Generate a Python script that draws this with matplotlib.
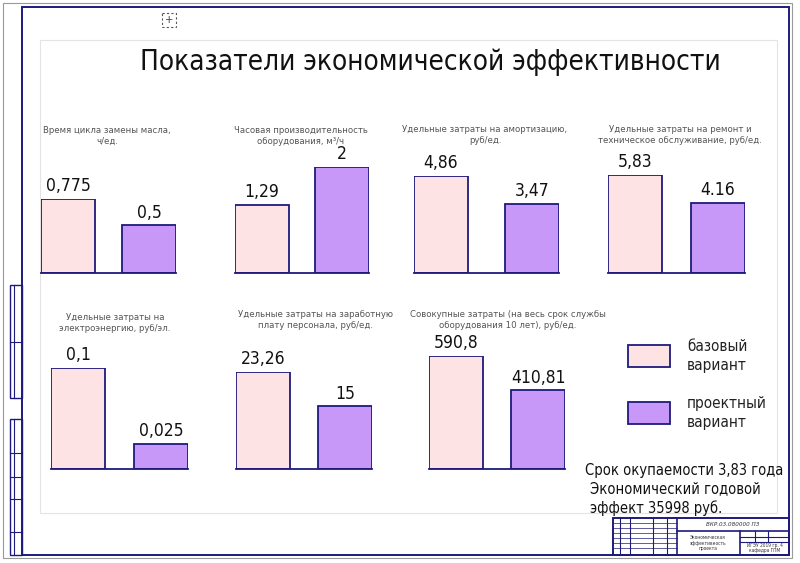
import matplotlib
matplotlib.use('Agg')
import matplotlib.pyplot as plt
from matplotlib.patches import Rectangle

plt.rcParams['font.family'] = ['DejaVu Sans']
plt.rcParams['font.stretch'] = 'condensed'

# data
titles = [
    'Время цикла замены масла,\nч/ед.',
    'Часовая производительность\nоборудования, м³/ч',
    'Удельные затраты на амортизацию,\nруб/ед.',
    'Удельные затраты на ремонт и\nтехническое обслуживание, руб/ед.',
    'Удельные затраты на\nэлектроэнергию, руб/эл.',
    'Удельные затраты на заработную\nплату персонала, руб/ед.',
    'Совокупные затраты (на весь срок службы\nоборудования 10 лет), руб/ед.',
]
base_values = [0.775, 1.29, 4.86, 5.83, 0.1, 23.26, 590.8]
proj_values = [0.5, 2, 3.47, 4.16, 0.025, 15, 410.81]
base_labels = ['0,775', '1,29', '4,86', '5,83', '0,1', '23,26', '590,8']
proj_labels = ['0,5', '2', '3,47', '4.16', '0,025', '15', '410,81']
legend_labels = ['базовый\nвариант', 'проектный\nвариант']

main_title = 'Показатели экономической эффективности'
notes = ['Срок окупаемости 3,83 года', 'Экономический годовой', 'эффект 35998 руб.']

# layout in pixels: left, right, baseline, height of tallest bar, title x, title y
layout = [
    (41, 176, 273, 74, 107, 136),
    (235, 369, 273, 106, 301, 136),
    (414, 559, 273, 97, 485, 135),
    (608, 745, 273, 98, 680, 135),
    (51, 188, 469, 101, 115, 323),
    (236, 372, 469, 97, 316, 320),
    (429, 565, 469, 113, 508, 320),
]

W, H = 800, 563
pink = '#fde3e3'
purple = '#c898f8'
navy = '#1e1a7c'

fig = plt.figure(figsize=(8, 5.63), dpi=100)
fig.patch.set_facecolor('white')

bg = fig.add_axes([0, 0, 1, 1])
bg.set_xlim(0, W)
bg.set_ylim(H, 0)
bg.axis('off')

# sheet frames
bg.add_patch(Rectangle((3, 3), 789, 555, fill=False, ec='#9a9a9a', lw=0.8))
bg.add_patch(Rectangle((22, 7), 767, 548, fill=False, ec=navy, lw=1.4))
bg.add_patch(Rectangle((40, 40), 737, 473, fill=False, ec='#e4e4e4', lw=0.8))

# left side strip
for y0, y1 in [(285, 398), (419, 555)]:
    bg.add_patch(Rectangle((10, y0), 12, y1 - y0, fill=False, ec=navy, lw=1))
    bg.plot([14, 14], [y0, y1], color=navy, lw=0.8)
for y in [342, 453, 477, 499, 532]:
    bg.plot([10, 22], [y, y], color=navy, lw=0.8)

# marker icon
bg.add_patch(Rectangle((162, 13), 14, 14, fill=False, ec='#555555', lw=0.8, ls=(0, (2, 2))))
bg.text(169, 20, '+', ha='center', va='center', fontsize=8, color='#444444')

# title block
tx0, ty0, tx1, ty1 = 613, 518, 789, 555
bg.add_patch(Rectangle((tx0, ty0), tx1 - tx0, ty1 - ty0, fill=False, ec=navy, lw=1.4))
bg.plot([677, 677], [ty0, ty1], color=navy, lw=1.2)
bg.plot([677, tx1], [531, 531], color=navy, lw=1.2)
bg.plot([740, 740], [531, ty1], color=navy, lw=1.2)
bg.plot([740, tx1], [537, 537], color=navy, lw=0.8)
bg.plot([740, tx1], [542, 542], color=navy, lw=0.8)
for x in [755, 768]:
    bg.plot([x, x], [531, 542], color=navy, lw=0.8)
for x in [620, 630, 653, 667]:
    bg.plot([x, x], [ty0, ty1], color=navy, lw=0.8)
for y in [523, 528, 533, 538, 543, 548]:
    bg.plot([tx0, 677], [y, y], color=navy, lw=0.5)
bg.text(733, 524.5, 'ВКР.03.080000 ПЗ', ha='center', va='center', fontsize=4.5,
        style='italic', color='#333333')
bg.text(708, 543, 'Экономическая\nэффективность\nпроекта', ha='center', va='center',
        fontsize=3.5, color='#333333', linespacing=1.1)
bg.text(765, 548, 'ИГЭУ 2019 гр. 4\nкафедра ГПМ', ha='center', va='center',
        fontsize=3.5, color='#333333', linespacing=1.1)

# main title
bg.text(430, 62, main_title, ha='center', va='center', fontsize=20, color='#111111')

# small bar charts
for i in range(len(titles)):
    left, right, base, tall, sx, sy = layout[i]
    bw = 54
    w = bw / (right - left - bw)
    vmax = max(base_values[i], proj_values[i])
    ax = fig.add_axes([left / W, 1 - base / H, (right - left) / W, tall / H])
    ax.patch.set_alpha(0)
    ax.bar([0, 1], [base_values[i], proj_values[i]], width=w,
           color=[pink, purple], edgecolor=navy, linewidth=1.3)
    ax.set_xlim(-w / 2, 1 + w / 2)
    ax.set_ylim(0, vmax)
    for s in ['top', 'left', 'right']:
        ax.spines[s].set_visible(False)
    ax.spines['bottom'].set_color(navy)
    ax.spines['bottom'].set_linewidth(1.3)
    ax.set_xticks([])
    ax.set_yticks([])
    for x, v, lab in [(0, base_values[i], base_labels[i]), (1, proj_values[i], proj_labels[i])]:
        ax.annotate(lab, (x, v), xytext=(0, 5.5), textcoords='offset points',
                    ha='center', va='baseline', fontsize=12.5, color='#111111',
                    annotation_clip=False)
    bg.text(sx, sy, titles[i], ha='center', va='center', fontsize=6.8,
            color='#555555', linespacing=1.3)

# legend
for j, col in enumerate([pink, purple]):
    y0 = 345 + j * 57
    bg.add_patch(Rectangle((628, y0), 42, 22, fc=col, ec=navy, lw=1.3))
    bg.text(687, y0 + 11, legend_labels[j], ha='left', va='center', fontsize=11,
            color='#222222', linespacing=1.4)

# notes
for k, t in enumerate(notes):
    bg.text(585 + (5 if k else 0), 470 + k * 19, t, ha='left', va='center',
            fontsize=10.5, color='#111111')

fig.savefig('out.png', dpi=100)
